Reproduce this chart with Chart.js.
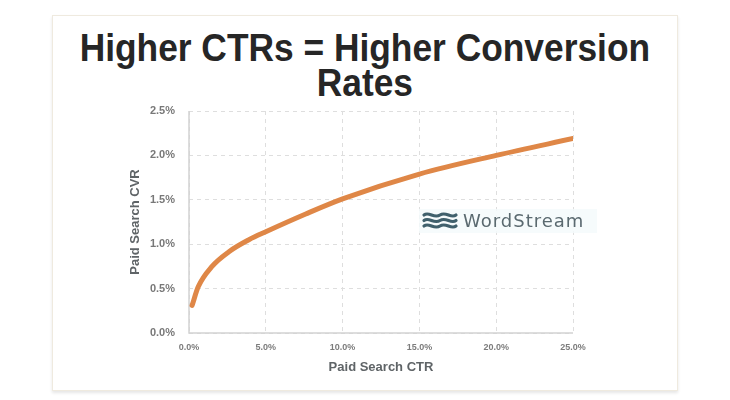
<!DOCTYPE html>
<html>
<head>
<meta charset="utf-8">
<script src="https://cdn.jsdelivr.net/npm/chart.js@4.4.1/dist/chart.umd.min.js"></script>
<style>
  html, body { margin: 0; padding: 0; background: #fff; }
  #wrap { position: relative; width: 730px; height: 400px; overflow: hidden; }
  #card {
    position: absolute; left: 52px; top: 15px; width: 624px; height: 374px;
    background: #fff; border: 1px solid #efeadf;
    box-shadow: 0 2px 3px rgba(0, 0, 0, 0.10);
  }
  #title {
    position: absolute; left: 0; top: 31px; width: 730px;
    text-align: center; font-family: "Liberation Sans", Arial, sans-serif;
    font-weight: bold; font-size: 38px; line-height: 35px; color: #262626;
    transform: scaleX(0.93); transform-origin: 363px 0;
  }
  #c { position: absolute; left: 0; top: 0; }
</style>
</head>
<body>
<div id="wrap">
  <div id="card"></div>
  <div id="title">Higher CTRs = Higher Conversion<br>Rates</div>
  <canvas id="c" width="730" height="400"></canvas>
</div>
<script>
// values (percent)
const ctrValues = [0.2, 0.6, 1.5, 2.6, 3.9, 5.0, 7.6, 10.0, 15.0, 20.0, 25.0];
const cvrValues = [0.31, 0.52, 0.75, 0.915, 1.05, 1.14, 1.34, 1.51, 1.79, 2.00, 2.19];
const xTicks = [0, 5, 10, 15, 20, 25];
const yTicks = [0, 0.5, 1.0, 1.5, 2.0, 2.5];

const points = ctrValues.map((x, i) => ({ x: x, y: cvrValues[i] }));
const pct = v => Number(v).toFixed(1) + '%';

// solid axis lines + WordStream watermark
const extras = {
  id: 'extras',
  beforeDatasetsDraw(chart) {
    const { ctx, chartArea: a } = chart;
    ctx.save();
    ctx.strokeStyle = '#d2d2d2';
    ctx.lineWidth = 1.5;
    ctx.setLineDash([]);
    ctx.beginPath();
    ctx.moveTo(a.left, a.top);
    ctx.lineTo(a.left, a.bottom);
    ctx.lineTo(a.right, a.bottom);
    ctx.stroke();

    // logo
    const lx = a.left + 234, ly = a.top + 110;
    ctx.fillStyle = 'rgba(244,250,252,0.85)';
    ctx.fillRect(lx - 4, ly - 12, 178, 24);
    ctx.strokeStyle = '#40606c';
    ctx.lineWidth = 3.2;
    ctx.lineCap = 'round';
    for (let k = 0; k < 3; k++) {
      const yy = ly - 6 + k * 5.5;
      ctx.beginPath();
      ctx.moveTo(lx + 1, yy);
      ctx.bezierCurveTo(lx + 6, yy - 4, lx + 11, yy + 4, lx + 17, yy);
      ctx.bezierCurveTo(lx + 23, yy - 4, lx + 28, yy + 4, lx + 33, yy);
      ctx.stroke();
    }
    ctx.fillStyle = '#5b6a70';
    ctx.font = '18px "DejaVu Sans", sans-serif';
    ctx.textBaseline = 'middle';
    ctx.textAlign = 'left';
    if ('letterSpacing' in ctx) ctx.letterSpacing = '1px';
    ctx.fillText('WordStream', lx + 40, ly + 1);
    ctx.restore();
  }
};

new Chart(document.getElementById('c').getContext('2d'), {
  type: 'scatter',
  data: {
    datasets: [{
      data: points,
      showLine: true,
      borderColor: '#df8747',
      borderWidth: 5,
      pointRadius: 0,
      cubicInterpolationMode: 'monotone',
      borderCapStyle: 'round'
    }]
  },
  options: {
    responsive: false,
    animation: false,
    layout: { padding: { left: 128, top: 111, right: 157, bottom: 25 } },
    plugins: { legend: { display: false }, tooltip: { enabled: false } },
    scales: {
      x: {
        type: 'linear', min: 0, max: 25,
        afterBuildTicks: s => { s.ticks = xTicks.map(v => ({ value: v })); },
        afterFit: s => { s.height = 42; },
        grid: { color: '#dedede', lineWidth: 1, drawTicks: false },
        border: { display: false, dash: [4, 4] },
        ticks: {
          padding: 9, color: '#7c7c7c',
          font: { family: 'Liberation Sans', size: 9, weight: 'bold' },
          callback: pct
        },
        title: {
          display: true, text: 'Paid Search CTR', color: '#5f6467',
          font: { family: 'Liberation Sans', size: 13, weight: 'bold' },
          padding: { top: 6, bottom: 0 }
        }
      },
      y: {
        type: 'linear', min: 0, max: 2.5,
        afterBuildTicks: s => { s.ticks = yTicks.map(v => ({ value: v })); },
        afterFit: s => { s.width = 61; },
        grid: { color: '#dedede', lineWidth: 1, drawTicks: false },
        border: { display: false, dash: [4, 4] },
        ticks: {
          padding: 14, color: '#787878',
          font: { family: 'Liberation Sans', size: 11, weight: 'bold' },
          callback: pct
        },
        title: {
          display: true, text: 'Paid Search CVR', color: '#5f6467',
          font: { family: 'Liberation Sans', size: 13, weight: 'bold' },
          padding: { top: 0, bottom: 0 }
        }
      }
    }
  },
  plugins: [extras]
});
</script>
</body>
</html>
